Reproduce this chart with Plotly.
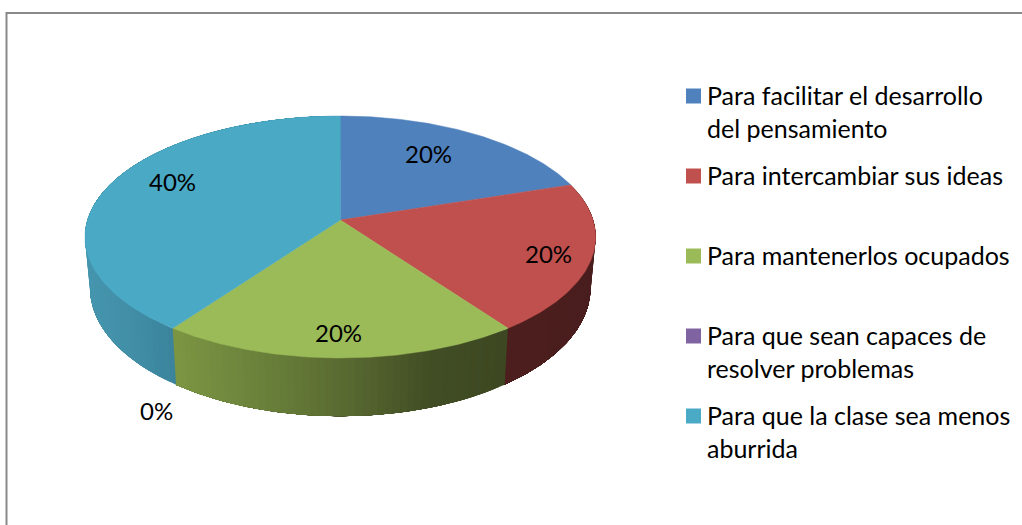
"""
3D-looking pie chart built from filled scatter polygons
"""
import numpy as np
import plotly.graph_objects as go

# data
categories = [
    "Para facilitar el desarrollo<br>del pensamiento",
    "Para intercambiar sus ideas",
    "Para mantenerlos ocupados",
    "Para que sean capaces de<br>resolver problemas",
    "Para que la clase sea menos<br>aburrida",
]
values = [20, 20, 20, 0, 40]
value_labels = ["20%", "20%", "20%", "0%", "40%"]
top_colors = ["#4f81bd", "#c0504d", "#9bbb59", "#8064a2", "#4aa9c4"]

# side shading: (screen x, colour) stops per slice
side_stops = [
    [(340, (60, 97, 142)), (570, (60, 97, 142))],
    [(505, (78, 31, 30)), (600, (74, 30, 30))],
    [(173, (124, 150, 68)), (250, (108, 132, 60)), (340, (91, 108, 50)), (430, (66, 78, 37)), (510, (61, 72, 34))],
    [(170, (96, 75, 122)), (180, (96, 75, 122))],
    [(85, (70, 150, 175)), (130, (66, 143, 167)), (176, (58, 131, 155))],
]

# perspective of the pie disc
CX, CY = 340.3, 220
A, B, K = 252.8, 118.6, 0.1405
DEPTH = 50
BOTTOM_SCALE = 0.98


def top_xy(theta):
    s, c = np.sin(theta), np.cos(theta)
    d = 1 + K * c
    return CX + A * s / d, CY - B * c / d


def bottom_xy(theta):
    x, y = top_xy(theta)
    return CX + (x - CX) * BOTTOM_SCALE, y + DEPTH / (1 + K * np.cos(theta))


def side_color(stops, x):
    xs = [p[0] for p in stops]
    rgb = [np.interp(x, xs, [p[1][i] for p in stops]) for i in range(3)]
    return "rgb(%d,%d,%d)" % tuple(rgb)


fig = go.Figure()

edges = np.radians(np.cumsum([0] + values) * 3.6)

# side walls first, the top discs cover whatever is behind
# every strip runs on to the end of its slice and the next one paints over it,
# that way no seams show between the strips
for i in range(len(values)):
    if values[i] == 0:
        continue
    steps = np.arange(edges[i], edges[i + 1], np.radians(1.5))
    for t0 in steps:
        if np.cos(t0) > 0.3 and np.cos(edges[i + 1]) > 0.3:
            continue
        t = np.linspace(t0, edges[i + 1], 80)
        xt, yt = top_xy(t)
        xb, yb = bottom_xy(t)
        col = side_color(side_stops[i], top_xy(t0 + np.radians(0.75))[0])
        fig.add_trace(go.Scatter(
            x=[*xt, *xb[::-1], xt[0]], y=[*yt, *yb[::-1], yt[0]],
            mode="lines", fill="toself", fillcolor=col,
            line=dict(width=0),
            hoverinfo="skip", showlegend=False,
        ))

# top of each slice
for i in range(len(values)):
    if values[i] == 0:
        continue
    t = np.linspace(edges[i], edges[i + 1], 120)
    x, y = top_xy(t)
    fig.add_trace(go.Scatter(
        x=[CX, *x, CX], y=[CY, *y, CY],
        mode="lines", fill="toself", fillcolor=top_colors[i],
        line=dict(color=top_colors[i], width=0.5),
        name=categories[i], showlegend=False,
    ))

# data labels
label_x = [428, 548, 338, 156, 172]
label_y = [153, 253, 332, 410, 181]
for i, text in enumerate(value_labels):
    fig.add_annotation(
        x=label_x[i], y=label_y[i], text=text, showarrow=False,
        font=dict(family="Lato", size=24, color="black"),
    )

# legend, spaced like the original so it is drawn by hand
legend_y = [96, 176, 256, 336, 416]
for i, cat in enumerate(categories):
    fig.add_shape(
        type="rect", x0=686, x1=701, y0=legend_y[i] - 7.5, y1=legend_y[i] + 7.5,
        fillcolor=top_colors[i], line_width=0,
    )
    fig.add_annotation(
        x=705, y=legend_y[i] - 18, text=cat, showarrow=False,
        xanchor="left", yanchor="top", align="left",
        font=dict(family="Lato", size=25, color="black"),
    )

# chart border runs off the right and bottom edges
fig.add_shape(
    type="rect", x0=6.5, y0=13, x1=1040, y1=540,
    line=dict(color="#898989", width=2),
)

fig.update_layout(
    width=1022, height=525,
    margin=dict(l=0, r=0, t=0, b=0),
    paper_bgcolor="white", plot_bgcolor="white",
    showlegend=False,
    xaxis=dict(range=[0, 1022], visible=False, fixedrange=True),
    yaxis=dict(range=[525, 0], visible=False, fixedrange=True),
)

fig.write_html(
    "out.html",
    post_script="document.body.style.margin='0';",
    config=dict(displayModeBar=False),
)
